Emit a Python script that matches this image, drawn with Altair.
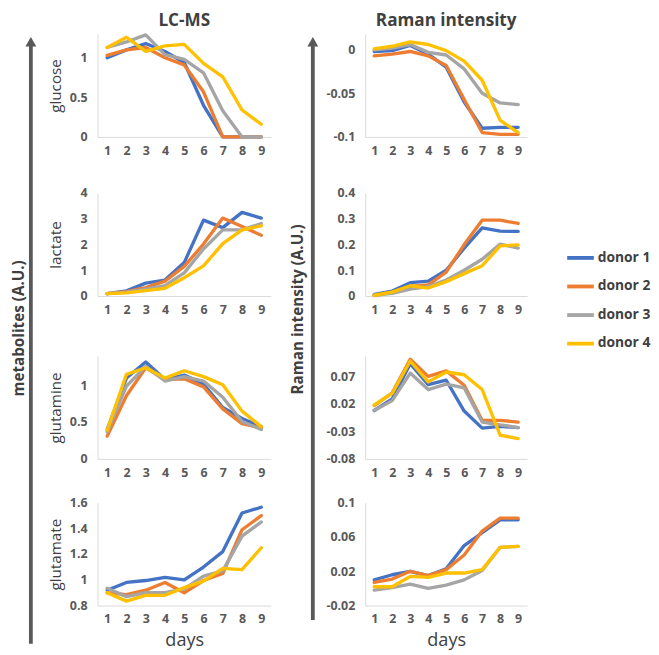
import altair as alt
import pandas as pd

days = [1, 2, 3, 4, 5, 6, 7, 8, 9]
donors = ["donor 1", "donor 2", "donor 3", "donor 4"]
palette = ["#4472C4", "#ED7D31", "#A5A5A5", "#FFC000"]

glucose_lcms = {
    "donor 1": [1.00, 1.10, 1.18, 1.08, 0.94, 0.40, 0.00, 0.00, 0.00],
    "donor 2": [1.03, 1.10, 1.13, 1.00, 0.91, 0.57, 0.00, 0.00, 0.00],
    "donor 3": [1.13, 1.20, 1.29, 1.04, 0.98, 0.81, 0.33, 0.00, 0.00],
    "donor 4": [1.13, 1.26, 1.08, 1.15, 1.17, 0.93, 0.76, 0.34, 0.16],
}
glucose_raman = {
    "donor 1": [-0.002, -0.001, 0.005, -0.005, -0.020, -0.060, -0.090, -0.089, -0.089],
    "donor 2": [-0.007, -0.005, -0.002, -0.007, -0.018, -0.057, -0.095, -0.097, -0.097],
    "donor 3": [0.000, 0.002, 0.006, -0.003, -0.006, -0.022, -0.050, -0.061, -0.063],
    "donor 4": [0.001, 0.004, 0.009, 0.006, -0.001, -0.013, -0.035, -0.081, -0.095],
}
lactate_lcms = {
    "donor 1": [0.09, 0.20, 0.50, 0.62, 1.30, 2.95, 2.66, 3.25, 3.03],
    "donor 2": [0.09, 0.17, 0.33, 0.58, 1.15, 2.02, 3.03, 2.70, 2.36],
    "donor 3": [0.09, 0.15, 0.27, 0.40, 0.90, 1.83, 2.57, 2.57, 2.82],
    "donor 4": [0.09, 0.12, 0.21, 0.30, 0.71, 1.17, 2.04, 2.57, 2.73],
}
lactate_raman = {
    "donor 1": [0.006, 0.019, 0.052, 0.058, 0.100, 0.186, 0.265, 0.252, 0.251],
    "donor 2": [0.002, 0.015, 0.037, 0.043, 0.093, 0.200, 0.295, 0.295, 0.282],
    "donor 3": [0.003, 0.010, 0.027, 0.037, 0.062, 0.100, 0.143, 0.202, 0.186],
    "donor 4": [0.003, 0.015, 0.040, 0.031, 0.056, 0.087, 0.118, 0.195, 0.199],
}
glutamine_lcms = {
    "donor 1": [0.40, 1.10, 1.32, 1.08, 1.14, 1.02, 0.70, 0.55, 0.44],
    "donor 2": [0.31, 0.86, 1.24, 1.08, 1.09, 0.98, 0.68, 0.48, 0.42],
    "donor 3": [0.37, 0.99, 1.26, 1.06, 1.12, 1.06, 0.84, 0.51, 0.40],
    "donor 4": [0.39, 1.15, 1.24, 1.10, 1.20, 1.12, 1.01, 0.65, 0.44],
}
glutamine_raman = {
    "donor 1": [0.008, 0.029, 0.093, 0.055, 0.063, 0.007, -0.024, -0.021, -0.023],
    "donor 2": [0.017, 0.040, 0.101, 0.070, 0.080, 0.054, -0.010, -0.010, -0.013],
    "donor 3": [0.008, 0.026, 0.076, 0.046, 0.056, 0.049, -0.013, -0.018, -0.023],
    "donor 4": [0.018, 0.039, 0.098, 0.060, 0.078, 0.073, 0.046, -0.037, -0.043],
}
glutamate_lcms = {
    "donor 1": [0.92, 0.98, 0.995, 1.02, 1.00, 1.10, 1.22, 1.52, 1.565],
    "donor 2": [0.90, 0.885, 0.92, 0.98, 0.90, 0.995, 1.05, 1.39, 1.50],
    "donor 3": [0.935, 0.87, 0.90, 0.90, 0.93, 1.03, 1.07, 1.34, 1.45],
    "donor 4": [0.90, 0.835, 0.88, 0.88, 0.94, 0.99, 1.09, 1.08, 1.25],
}
glutamate_raman = {
    "donor 1": [0.010, 0.016, 0.020, 0.015, 0.023, 0.050, 0.065, 0.080, 0.080],
    "donor 2": [0.007, 0.011, 0.020, 0.015, 0.022, 0.039, 0.067, 0.082, 0.082],
    "donor 3": [-0.002, 0.001, 0.005, 0.000, 0.004, 0.010, 0.021, 0.048, 0.049],
    "donor 4": [0.002, 0.002, 0.014, 0.013, 0.018, 0.018, 0.022, 0.048, 0.049],
}

FONT = "Open Sans"
TXT = "#404040"
LBL = "#595959"
LW, RW, H = 182, 170, 108


def frame(series):
    rows = []
    for name in donors:
        for d, v in zip(days, series[name]):
            rows.append({"day": d, "value": v, "donor": name})
    return pd.DataFrame(rows)


def panel(series, width, ydomain, yvalues, ytitle=None, xtitle=None, title=None):
    if ytitle:
        yax = alt.Axis(values=yvalues, labelExpr="'' + datum.value", title=ytitle,
                       titleX=-44, titleY=H / 2, titleAngle=270, titleBaseline="middle",
                       titleAlign="center", titleFont=FONT, titleFontSize=16,
                       titleFontWeight="normal", titleColor=TXT)
    else:
        yax = alt.Axis(values=yvalues, labelExpr="'' + datum.value", title=None)
    if xtitle:
        xax = alt.Axis(values=days, format="d", title=xtitle, titleFont=FONT,
                       titleFontSize=19, titleFontWeight="normal", titleColor=TXT,
                       titlePadding=6)
    else:
        xax = alt.Axis(values=days, format="d", title=None)
    props = dict(width=width, height=H)
    if title:
        props["title"] = alt.Title(title, font=FONT, fontSize=18, fontWeight="bold",
                                   color=TXT, offset=4, anchor="middle", frame="group")
    return alt.Chart(frame(series)).mark_line(
        strokeWidth=3.5, strokeJoin="round", strokeCap="round"
    ).encode(
        x=alt.X("day:Q", scale=alt.Scale(domain=[0.5, 9.5], nice=False, zero=False), axis=xax),
        y=alt.Y("value:Q", scale=alt.Scale(domain=ydomain, nice=False, zero=False), axis=yax),
        color=alt.Color("donor:N", scale=alt.Scale(domain=donors, range=palette),
                        legend=alt.Legend(title=None, orient="none", legendX=585, legendY=219,
                                          symbolType="stroke", symbolStrokeWidth=4,
                                          symbolSize=784, labelFont=FONT, labelFontSize=14.5,
                                          labelFontWeight="bold", labelColor=TXT,
                                          rowPadding=6, labelOffset=2, padding=0)),
    ).properties(**props)


def column(charts):
    r1, r2, r3, r4 = charts
    return alt.vconcat(
        alt.vconcat(alt.vconcat(r1, r2, spacing=32), r3, spacing=42),
        r4, spacing=19,
    )


left_col = column([
    panel(glucose_lcms, LW, [0, 1.3], [0, 0.5, 1], ytitle="glucose", title="LC-MS"),
    panel(lactate_lcms, LW, [0, 4], [0, 1, 2, 3, 4], ytitle="lactate"),
    panel(glutamine_lcms, LW, [0, 1.4], [0, 0.5, 1], ytitle="glutamine"),
    panel(glutamate_lcms, LW, [0.8, 1.6], [0.8, 1, 1.2, 1.4, 1.6], ytitle="glutamate", xtitle="days"),
])
right_col = column([
    panel(glucose_raman, RW, [-0.1, 0.018], [-0.1, -0.05, 0], title="Raman intensity"),
    panel(lactate_raman, RW, [0, 0.4], [0, 0.1, 0.2, 0.3, 0.4]),
    panel(glutamine_raman, RW, [-0.08, 0.107], [-0.08, -0.03, 0.02, 0.07]),
    panel(glutamate_raman, RW, [-0.02, 0.1], [-0.02, 0.02, 0.06, 0.1], xtitle="days"),
])


def side_label(text, width, height, tx, ax, y_top, y_bottom, y_mid):
    lab = pd.DataFrame({"label": [text]})
    rule = alt.Chart(lab).mark_rule(color="#595959", strokeWidth=4).encode(
        x=alt.value(ax), y=alt.value(y_top + 6), y2=alt.value(y_bottom))
    head = alt.Chart(lab).mark_point(shape="triangle-up", filled=True, color="#595959",
                                     opacity=1, size=130).encode(
        x=alt.value(ax), y=alt.value(y_top + 6))
    txt = alt.Chart(lab).mark_text(angle=270, font=FONT, fontSize=16, fontWeight="bold",
                                   color=TXT, align="center", baseline="middle").encode(
        text="label:N", x=alt.value(tx), y=alt.value(y_mid))
    return alt.layer(rule, head, txt).properties(width=width, height=height)


label_left = side_label("metabolites (A.U.)", 42, 580, 12, 24, 2, 640, 309)
label_right = side_label("Raman intensity (A.U.)", 57, 580, 29, 44, 2, 615, 289)

chart = alt.hconcat(label_left, left_col, label_right, right_col, spacing=0).properties(
    padding={"left": 0, "top": -12, "right": 0, "bottom": 0}, background="white"
).configure_view(strokeWidth=0).configure_axis(
    domainColor="#d9d9d9", domainWidth=1, ticks=False, tickSize=0, grid=False,
    labelFont=FONT, labelFontWeight="bold", labelFontSize=13, labelColor=LBL,
    labelPadding=11,
).configure_axisX(labelPadding=8)

chart.save("out.html", embed_options={"renderer": "svg", "actions": False})
